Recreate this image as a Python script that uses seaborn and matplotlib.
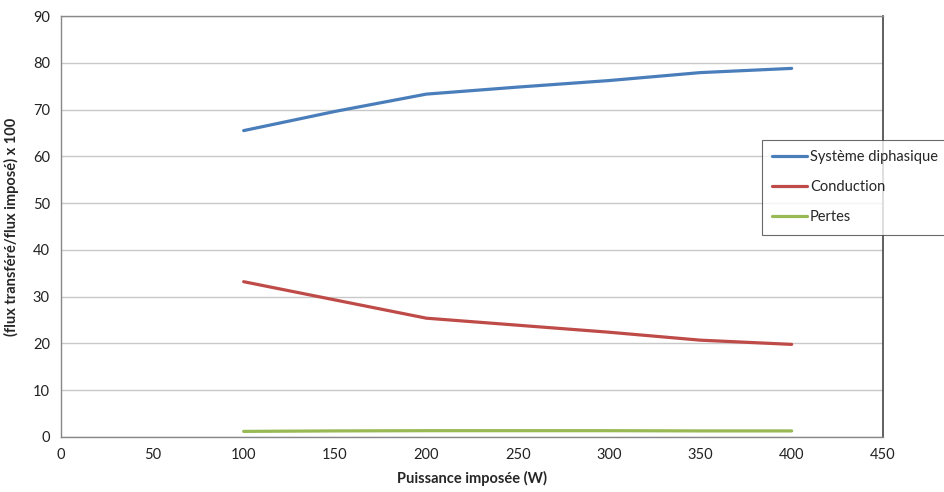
import matplotlib
matplotlib.use("Agg")
import matplotlib.pyplot as plt
import seaborn as sns
import pandas as pd

puissance = [100, 150, 200, 250, 300, 350, 400]
systeme = [65.5, 69.6, 73.3, 74.8, 76.2, 77.9, 78.8]
conduction = [33.2, 29.3, 25.4, 23.9, 22.4, 20.7, 19.8]
pertes = [1.2, 1.3, 1.35, 1.35, 1.35, 1.3, 1.3]
series_names = ["Système diphasique", "Conduction", "Pertes"]
colors = ["#4A7EBB", "#BE4B48", "#98B954"]

df = pd.DataFrame({
    "x": puissance * 3,
    "y": systeme + conduction + pertes,
    "serie": [series_names[0]] * 7 + [series_names[1]] * 7 + [series_names[2]] * 7,
})

sns.set_theme(style="white")
plt.rcParams["font.family"] = ["Lato", "DejaVu Sans"]

fig = plt.figure(figsize=(9.45, 4.92), dpi=100)
ax = fig.add_axes([61 / 945, 55 / 492, (883 - 61) / 945, (437 - 16) / 492])

sns.lineplot(data=df, x="x", y="y", hue="serie", palette=colors,
             hue_order=series_names, linewidth=2.3, ax=ax, legend=True)

ax.set_xlim(0, 450)
ax.set_ylim(0, 90)
ax.set_xticks(range(0, 451, 50))
ax.set_yticks(range(0, 91, 10))
ax.tick_params(axis="both", length=0, labelsize=10.5, colors="#222222", pad=8)
ax.grid(axis="y", color="#C8C8C8", linewidth=1)
ax.set_axisbelow(True)
for side in ["left", "top", "bottom"]:
    ax.spines[side].set_color("#888888")
    ax.spines[side].set_linewidth(1)
ax.spines["right"].set_color("#444444")
ax.spines["right"].set_linewidth(1.2)

ax.set_xlabel("Puissance imposée (W)", fontsize=10.5, fontweight="bold", labelpad=6)
ax.set_ylabel("(flux transféré/flux imposé) x 100", fontsize=10.5, fontweight="bold", labelpad=10)

leg = ax.legend(loc="upper left", bbox_to_anchor=(762 / 945, 1 - 140 / 492),
                bbox_transform=fig.transFigure, fontsize=10.5, frameon=True,
                fancybox=False, edgecolor="#444444", handlelength=2.4,
                handletextpad=0.2, labelspacing=1.1, borderpad=0.7,
                borderaxespad=0)
leg.get_frame().set_linewidth(0.8)
for line in leg.get_lines():
    line.set_linewidth(2.3)

fig.savefig("out.png", dpi=100)
